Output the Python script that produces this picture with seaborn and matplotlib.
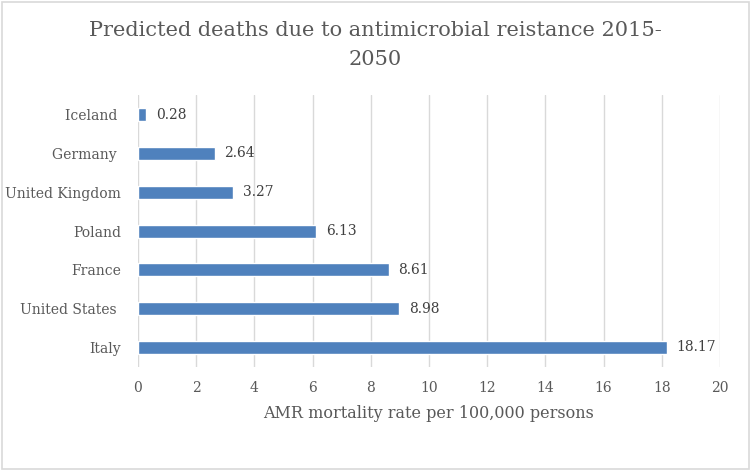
import matplotlib
matplotlib.use("Agg")
import matplotlib.pyplot as plt
import seaborn as sns
import pandas as pd
from matplotlib.patches import Rectangle

countries = ["Iceland ", "Germany ", "United Kingdom", "Poland", "France", "United States ", "Italy"]
rates = [0.28, 2.64, 3.27, 6.13, 8.61, 8.98, 18.17]
xticks = list(range(0, 21, 2))

df = pd.DataFrame({"country": countries, "rate": rates})

sns.set_theme(style="white")
plt.rcParams['font.family'] = ['DejaVu Serif']

fig = plt.figure(figsize=(7.5, 4.71), dpi=100)
ax = fig.add_axes([0.184, 0.221, 0.776, 0.577])

sns.barplot(data=df, x="rate", y="country", orient="h", color="#4F81BD",
            width=0.335, saturation=1, ax=ax, zorder=3)

ax.set_xlim(0, 20)
ax.set_xticks(xticks)
ax.set_ylim(6.5, -0.5)
ax.grid(axis="x", color="#d9d9d9", linewidth=1, zorder=0)
ax.set_axisbelow(True)
for s in ax.spines.values():
    s.set_visible(False)
ax.tick_params(axis="both", length=0, colors="#595959", labelsize=10)
ax.tick_params(axis="y", pad=12)
ax.tick_params(axis="x", pad=10)
ax.set_ylabel("")
ax.set_xlabel("AMR mortality rate per 100,000 persons", fontsize=11.5, color="#595959", labelpad=7)

for c in ax.containers:
    ax.bar_label(c, labels=[f"{v:.2f}" for v in rates], padding=7, fontsize=10, color="#404040")

fig.suptitle("Predicted deaths due to antimicrobial reistance 2015-\n2050", fontsize=15,
             color="#595959", y=0.956, linespacing=1.7)

fig.patches.append(Rectangle((0.002, 0.004), 0.996, 0.992, transform=fig.transFigure,
                             fill=False, edgecolor="#d9d9d9", linewidth=1.2))

fig.savefig("out.png", dpi=100)
